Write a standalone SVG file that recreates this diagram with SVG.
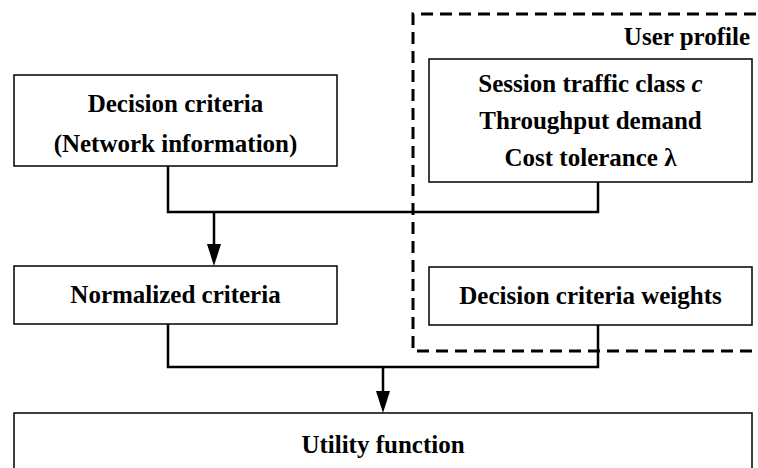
<svg xmlns="http://www.w3.org/2000/svg" width="758" height="468" viewBox="0 0 758 468">
<style>
  .box { fill: #fff; stroke: #000; stroke-width: 1.5; }
  .dash { fill: none; stroke: #000; stroke-width: 3; stroke-dasharray: 12 7; }
  .conn { fill: none; stroke: #000; stroke-width: 2.5; }
  text { font-family: "Liberation Serif", "Times New Roman", serif; font-size: 25px; font-weight: bold; fill: #000; text-anchor: middle; }
</style>
<defs>
  <marker id="arrow" markerUnits="userSpaceOnUse" markerWidth="22" markerHeight="14" refX="12" refY="7" orient="auto" viewBox="0 0 22 14">
    <path d="M0,0 L22,7 L0,14 z" fill="#000"/>
  </marker>
</defs>
<rect width="758" height="468" fill="#fff"/>
<g id="user-profile">
  <path class="dash" d="M775,14 H413 V351 H775"/>
  <text x="750" y="45" style="text-anchor:end">User profile</text>
</g>
<g id="decision-criteria">
  <rect class="box" x="14" y="75" width="323" height="91"/>
  <text x="175.5" y="112">Decision criteria</text>
  <text x="175.5" y="152">(Network information)</text>
</g>
<g id="session-info">
  <rect class="box" x="429" y="59" width="323" height="123"/>
  <text x="590.5" y="92">Session traffic class <tspan font-style="italic">c</tspan></text>
  <text x="590.5" y="129">Throughput demand</text>
  <text x="590.5" y="166">Cost tolerance λ</text>
</g>
<g id="normalized-criteria">
  <rect class="box" x="14" y="266" width="323" height="58"/>
  <text x="175.5" y="303">Normalized criteria</text>
</g>
<g id="criteria-weights">
  <rect class="box" x="429" y="267" width="323" height="58"/>
  <text x="590.5" y="304">Decision criteria weights</text>
</g>
<g id="utility-function">
  <rect class="box" x="14" y="413" width="738" height="80"/>
  <text x="383" y="453">Utility function</text>
</g>
<g id="connectors">
  <path class="conn" d="M168,166 V212 H598 V182"/>
  <path class="conn" d="M214,212 V256" marker-end="url(#arrow)"/>
  <path class="conn" d="M168,324 V367 H598 V325"/>
  <path class="conn" d="M383,367 V403" marker-end="url(#arrow)"/>
</g>
</svg>
